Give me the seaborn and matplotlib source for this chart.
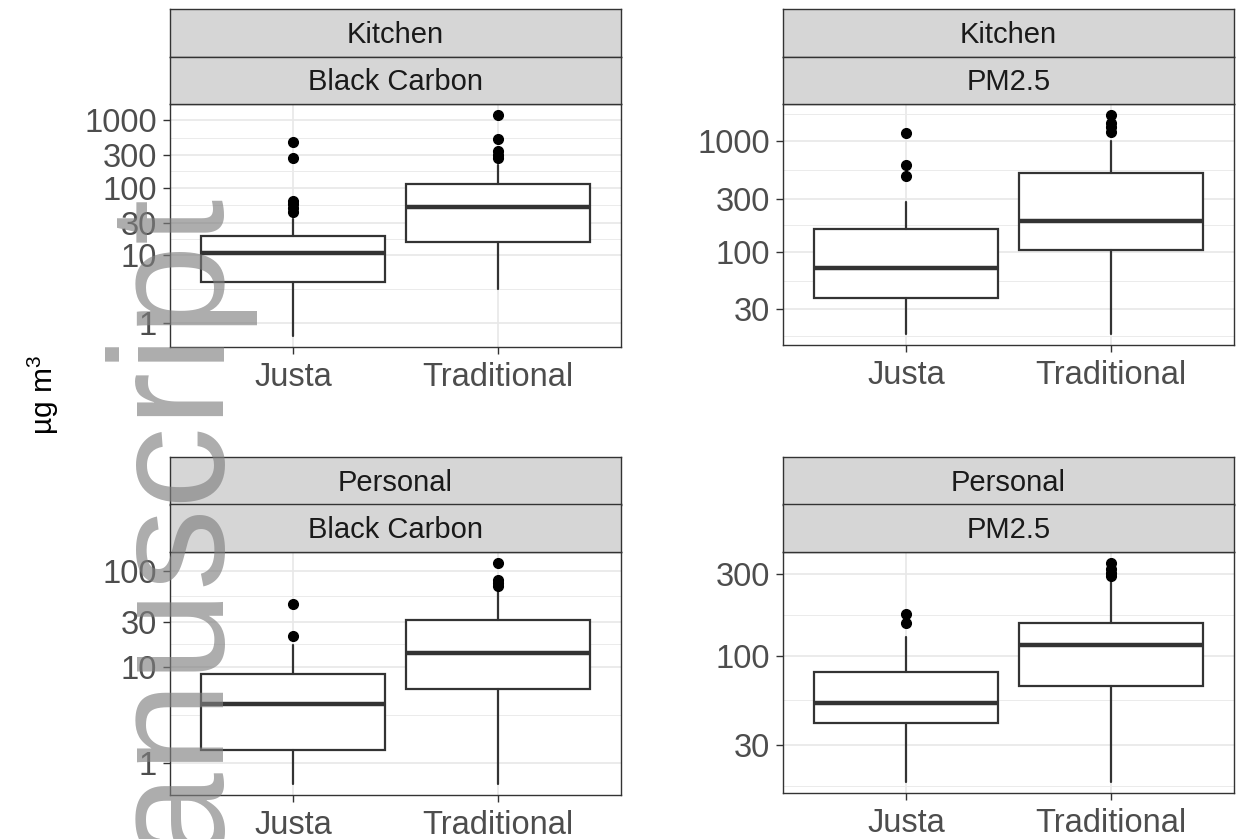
import numpy as np
import matplotlib
matplotlib.use("Agg")
import matplotlib.pyplot as plt
from matplotlib.ticker import FixedLocator, NullFormatter
import seaborn as sns

# --- data (ug/m3), each list is [Justa, Traditional] ---
stoves = ["Justa", "Traditional"]

kitchen_bc_whislo = [0.64, 3.2]
kitchen_bc_q1 = [4.0, 15.6]
kitchen_bc_med = [10.8, 52]
kitchen_bc_q3 = [19, 113]
kitchen_bc_whishi = [34, 215]
kitchen_bc_fliers = [[44, 50, 57, 63, 270, 475], [275, 300, 345, 530, 1180]]

kitchen_pm_whislo = [18, 18]
kitchen_pm_q1 = [38, 104]
kitchen_pm_med = [71, 187]
kitchen_pm_q3 = [160, 515]
kitchen_pm_whishi = [280, 1000]
kitchen_pm_fliers = [[485, 605, 1170], [1190, 1330, 1460, 1710]]

personal_bc_whislo = [0.61, 0.61]
personal_bc_q1 = [1.38, 6.0]
personal_bc_med = [4.2, 14]
personal_bc_q3 = [8.6, 31.3]
personal_bc_whishi = [17.2, 64]
personal_bc_fliers = [[21.4, 46], [70, 75, 82, 122]]

personal_pm_whislo = [18.2, 18.2]
personal_pm_q1 = [40.5, 66]
personal_pm_med = [53, 115]
personal_pm_q3 = [80, 154]
personal_pm_whishi = [129, 285]
personal_pm_fliers = [[154, 176], [292, 305, 320, 348]]

panels = [
    ("Kitchen", "Black Carbon", kitchen_bc_whislo, kitchen_bc_q1, kitchen_bc_med,
     kitchen_bc_q3, kitchen_bc_whishi, kitchen_bc_fliers,
     [0.1, 1, 10, 30, 100, 300, 1000, 3000]),
    ("Kitchen", "PM2.5", kitchen_pm_whislo, kitchen_pm_q1, kitchen_pm_med,
     kitchen_pm_q3, kitchen_pm_whishi, kitchen_pm_fliers,
     [10, 30, 100, 300, 1000, 3000]),
    ("Personal", "Black Carbon", personal_bc_whislo, personal_bc_q1, personal_bc_med,
     personal_bc_q3, personal_bc_whishi, personal_bc_fliers,
     [0.1, 1, 10, 30, 100, 300]),
    ("Personal", "PM2.5", personal_pm_whislo, personal_pm_q1, personal_pm_med,
     personal_pm_q3, personal_pm_whishi, personal_pm_fliers,
     [10, 30, 100, 300, 1000]),
]

# --- styling ---
sns.set_theme(style="white")
plt.rcParams["font.family"] = ["Liberation Sans", "DejaVu Sans"]
plt.rcParams["mathtext.default"] = "regular"

W, H = 1236, 839
fig = plt.figure(figsize=(W / 100, H / 100), dpi=100)

# panel boxes in pixels: (left, right, top, bottom)
panel_px = [(170, 621, 104, 347), (783, 1234, 104, 345),
            (170, 621, 552, 795), (783, 1234, 552, 793)]
strip_h = 47.5

DARK = "#333333"


def rect(l, r, t, b):
    return [l / W, 1 - b / H, (r - l) / W, (b - t) / H]


for (loc, pol, wlo, q1, med, q3, whi, fl, breaks), (l, r, t, b) in zip(panels, panel_px):
    ax = fig.add_axes(rect(l, r, t, b))
    stats = [dict(whislo=wlo[i], q1=q1[i], med=med[i], q3=q3[i], whishi=whi[i],
                  fliers=fl[i], label=stoves[i]) for i in range(2)]
    ax.bxp(stats, positions=[1, 2], widths=0.9, showcaps=False, patch_artist=True,
           boxprops=dict(facecolor="white", edgecolor=DARK, linewidth=1.6),
           medianprops=dict(color=DARK, linewidth=3.2, solid_capstyle="butt"),
           whiskerprops=dict(color=DARK, linewidth=1.6),
           flierprops=dict(marker="o", markerfacecolor="black",
                           markeredgecolor="black", markersize=7))
    ax.set_yscale("log")
    allv = wlo + whi + [v for f in fl for v in f]
    lo, hi = np.log10(min(allv)), np.log10(max(allv))
    pad = 0.05 * (hi - lo)
    ax.set_ylim(10 ** (lo - pad), 10 ** (hi + pad))
    ax.set_xlim(0.4, 2.6)

    ax.yaxis.set_major_locator(FixedLocator(breaks))
    ax.set_yticklabels([f"{v:g}" for v in breaks])
    lb = np.log10(breaks)
    ax.yaxis.set_minor_locator(FixedLocator(10 ** ((lb[:-1] + lb[1:]) / 2)))
    ax.yaxis.set_minor_formatter(NullFormatter())
    ax.set_xticks([1, 2])
    ax.set_xticklabels(stoves)

    ax.set_axisbelow(True)
    ax.grid(True, which="major", color="#E8E8E8", linewidth=1.2)
    ax.grid(True, which="minor", axis="y", color="#EBEBEB", linewidth=0.7)
    ax.tick_params(axis="both", which="major", length=5, width=1.0, color=DARK,
                   labelsize=23.5, labelcolor="#4D4D4D", pad=4.5,
                   left=True, bottom=True)
    ax.tick_params(axis="x", which="major", pad=6)
    ax.tick_params(axis="y", which="minor", length=0)
    for s in ax.spines.values():
        s.set_color(DARK)
        s.set_linewidth(1.0)

    # two stacked strips on top of each panel
    for k, label in enumerate([loc, pol]):
        st = t - strip_h * (2 - k)
        sax = fig.add_axes(rect(l, r, st, st + strip_h))
        sax.set_facecolor("#D6D6D6")
        sax.set_xticks([])
        sax.set_yticks([])
        for s in sax.spines.values():
            s.set_color(DARK)
            s.set_linewidth(1.0)
        sax.text(0.5, 0.46, label, ha="center", va="center", fontsize=21,
                 color="#1A1A1A", transform=sax.transAxes)

fig.text(43 / W, 1 - 395 / H, "µg m$^3$", rotation=90, ha="center", va="center",
         fontsize=21.5, color="black")

# watermark
fig.text(213 / W, 1 - 588 / H, "manuscript", rotation=90, rotation_mode="anchor",
         ha="center", va="baseline", fontsize=118, color="#808080", alpha=0.65,
         zorder=100)

fig.savefig("out.png", dpi=100)
